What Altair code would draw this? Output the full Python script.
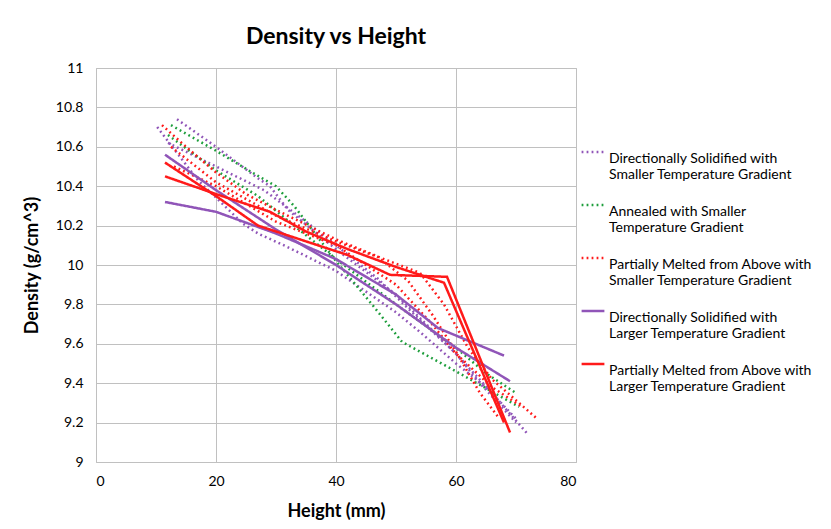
import altair as alt
import pandas as pd

# Series (legend labels, "|" marks the line break)
series = [
    "Directionally Solidified with|Smaller Temperature Gradient",
    "Annealed with Smaller|Temperature Gradient",
    "Partially Melted from Above with|Smaller Temperature Gradient",
    "Directionally Solidified with|Larger Temperature Gradient",
    "Partially Melted from Above with|Larger Temperature Gradient",
]
colors = ["#9055b8", "#1e9e3c", "#ff1a1a", "#9055b8", "#ff1a1a"]

# Individual samples: height (mm) and density (g/cm^3)
ds_small_1_x = [13.5, 20, 27, 29, 32, 40, 50, 60, 66, 72]
ds_small_1_y = [10.74, 10.60, 10.44, 10.40, 10.28, 10.08, 9.85, 9.55, 9.35, 9.14]
ds_small_2_x = [10.2, 17, 24.5, 27, 32, 40, 50, 54, 60, 65, 70]
ds_small_2_y = [10.70, 10.43, 10.21, 10.16, 10.09, 9.97, 9.76, 9.66, 9.50, 9.38, 9.22]
ds_small_3_x = [12, 20, 28, 35, 40, 47, 53, 60, 64, 70]
ds_small_3_y = [10.62, 10.50, 10.38, 10.22, 10.10, 9.93, 9.75, 9.55, 9.40, 9.20]

ann_small_1_x = [12.5, 20, 26, 30, 33, 40, 46, 51, 60, 70.5]
ann_small_1_y = [10.71, 10.58, 10.47, 10.40, 10.30, 10.02, 9.80, 9.61, 9.46, 9.28]
ann_small_2_x = [12, 20, 27, 33, 40, 50, 60, 65, 70]
ann_small_2_y = [10.66, 10.48, 10.35, 10.20, 10.03, 9.80, 9.58, 9.45, 9.35]

pm_small_1_x = [11, 15, 20, 25, 30, 40, 48, 54, 58, 62, 66, 73.5]
pm_small_1_y = [10.71, 10.60, 10.47, 10.36, 10.28, 10.13, 10.03, 9.96, 9.80, 9.58, 9.42, 9.22]
pm_small_2_x = [12.5, 20, 30, 40, 47, 52, 56, 60, 64, 67]
pm_small_2_y = [10.60, 10.42, 10.25, 10.12, 10.04, 9.92, 9.75, 9.56, 9.35, 9.23]
pm_small_3_x = [13, 20, 30, 40, 50, 56, 60, 66, 71]
pm_small_3_y = [10.50, 10.40, 10.22, 10.10, 9.90, 9.70, 9.55, 9.38, 9.28]

ds_large_1_x = [11.5, 20, 30, 40, 50, 57, 68]
ds_large_1_y = [10.32, 10.27, 10.16, 10.03, 9.85, 9.68, 9.54]
ds_large_2_x = [11.5, 20, 30, 40, 50, 60, 69]
ds_large_2_y = [10.56, 10.38, 10.18, 10.00, 9.80, 9.58, 9.41]

pm_large_1_x = [11.5, 20, 27, 35, 42, 49, 58.5, 69]
pm_large_1_y = [10.52, 10.35, 10.20, 10.12, 10.05, 9.95, 9.94, 9.15]
pm_large_2_x = [11.5, 20, 29, 35, 42, 50, 58, 68]
pm_large_2_y = [10.45, 10.36, 10.27, 10.17, 10.08, 9.99, 9.91, 9.20]

samples = [
    (0, "dss1", ds_small_1_x, ds_small_1_y),
    (0, "dss2", ds_small_2_x, ds_small_2_y),
    (0, "dss3", ds_small_3_x, ds_small_3_y),
    (1, "ann1", ann_small_1_x, ann_small_1_y),
    (1, "ann2", ann_small_2_x, ann_small_2_y),
    (2, "pms1", pm_small_1_x, pm_small_1_y),
    (2, "pms2", pm_small_2_x, pm_small_2_y),
    (2, "pms3", pm_small_3_x, pm_small_3_y),
    (3, "dsl1", ds_large_1_x, ds_large_1_y),
    (3, "dsl2", ds_large_2_x, ds_large_2_y),
    (4, "pml1", pm_large_1_x, pm_large_1_y),
    (4, "pml2", pm_large_2_x, pm_large_2_y),
]

rows = []
for si, sid, xs, ys in samples:
    for x, y in zip(xs, ys):
        rows.append({"series": series[si], "sample": sid, "order": si, "height": x, "density": y})
df = pd.DataFrame(rows)

dot = [1.8, 3.2]
solid = [1, 0]

chart = alt.Chart(df).mark_line().encode(
    x=alt.X("height:Q", title="Height (mm)",
            scale=alt.Scale(domain=[0, 80], nice=False),
            axis=alt.Axis(values=[0, 20, 40, 60, 80], labelPadding=12, titlePadding=14)),
    y=alt.Y("density:Q", title="Density (g/cm^3)",
            scale=alt.Scale(domain=[9, 11], nice=False, zero=False),
            axis=alt.Axis(values=[9, 9.2, 9.4, 9.6, 9.8, 10, 10.2, 10.4, 10.6, 10.8, 11],
                          format=".1~f", labelPadding=13, titlePadding=14)),
    color=alt.Color("series:N", scale=alt.Scale(domain=series, range=colors),
                    legend=alt.Legend(title=None, orient="none", legendX=484, legendY=71,
                                      labelExpr="split(datum.label, '|')",
                                      symbolType="stroke", symbolSize=520,
                                      symbolStrokeWidth=2, labelFontSize=14,
                                      labelFont="Lato", labelLimit=300,
                                      labelBaseline="top", labelOffset=3,
                                      rowPadding=10)),
    strokeDash=alt.StrokeDash("series:N", scale=alt.Scale(domain=series, range=[dot, dot, dot, solid, solid])),
    strokeWidth=alt.StrokeWidth("series:N", scale=alt.Scale(domain=series, range=[2.5, 2.5, 2.5, 1.5, 1.5]), legend=None),
    detail="sample:N",
    order=alt.Order("order:Q"),
).properties(
    width=480,
    height=394,
    title=alt.TitleParams("Density vs Height", fontSize=23, font="Lato", fontWeight="bold", offset=12, color="black"),
    autosize=alt.AutoSizeParams(type="none"),
    padding={"left": 88, "top": 60, "right": 240, "bottom": 58},
).configure_axis(
    gridColor="#c0c0c0",
    domain=False,
    ticks=False,
    labelFont="Lato",
    labelFontSize=14,
    labelColor="black",
    titleFont="Lato",
    titleFontSize=18,
    titleFontWeight="bold",
    titleColor="black",
).configure_view(stroke="#c0c0c0")

chart.save("out.html", embed_options={"renderer": "svg", "actions": False})
